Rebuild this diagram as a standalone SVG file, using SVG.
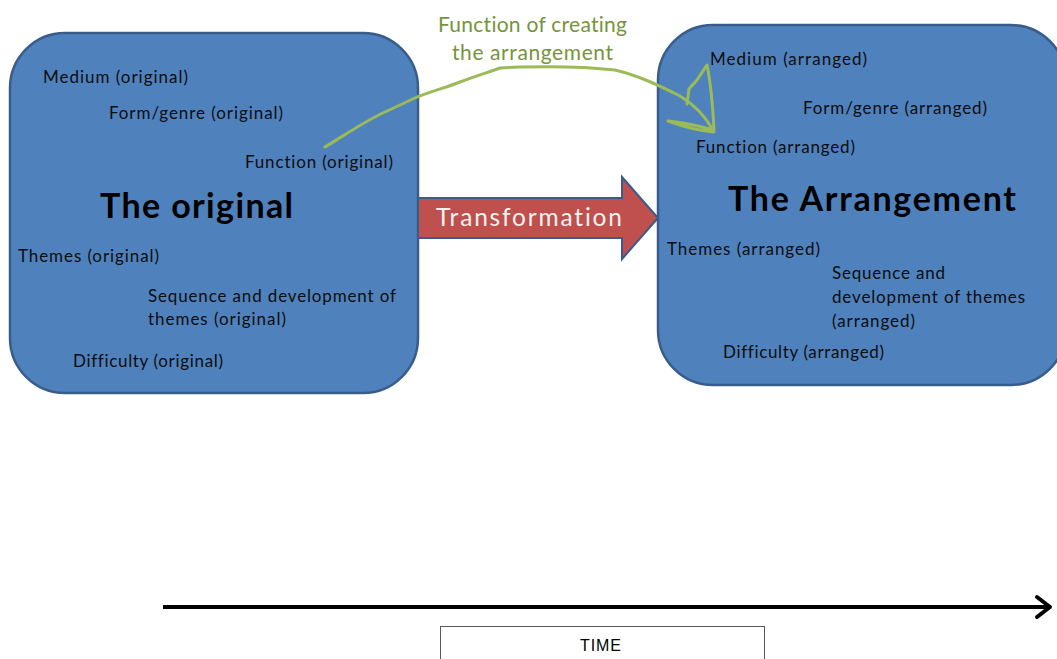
<svg xmlns="http://www.w3.org/2000/svg" width="1057" height="659" viewBox="0 0 1057 659">
  <defs>
    <style>
      text { font-variant-ligatures: none; }
      .box { fill: #4F81BD; stroke: #385D8A; stroke-width: 2.5; }
      .item { font-family: Lato, "Open Sans", sans-serif; font-size: 17px; fill: #0d0d0d; }
      .title { font-family: Lato, "Open Sans", sans-serif; font-size: 34px; font-weight: bold; fill: #000; }
      .green { font-family: Lato, "Open Sans", sans-serif; font-size: 21px; fill: #77933C; }
      .pen { fill: none; stroke: #9BBB59; stroke-width: 3; stroke-linecap: round; stroke-linejoin: round; }
    </style>
  </defs>

  <rect width="1057" height="659" fill="#ffffff"/>

  <!-- left node: the original work -->
  <g id="original">
    <rect class="box" x="10" y="33" width="408" height="360" rx="55" ry="55"/>
    <text class="item" x="43" y="83" textLength="145">Medium (original)</text>
    <text class="item" x="109" y="119" textLength="174">Form/genre (original)</text>
    <text class="item" x="245" y="168" textLength="148">Function (original)</text>
    <text class="title" x="100" y="218" textLength="193">The original</text>
    <text class="item" x="18" y="262" textLength="141">Themes (original)</text>
    <text class="item" x="148" y="302" textLength="248">Sequence and development of</text>
    <text class="item" x="148" y="325" textLength="138">themes (original)</text>
    <text class="item" x="73" y="367" textLength="150">Difficulty (original)</text>
  </g>

  <!-- right node: the arrangement -->
  <g id="arrangement">
    <rect class="box" x="658" y="25" width="408" height="360" rx="55" ry="55"/>
    <text class="item" x="710" y="65" textLength="157">Medium (arranged)</text>
    <text class="item" x="803" y="114" textLength="184">Form/genre (arranged)</text>
    <text class="item" x="696" y="153" textLength="159">Function (arranged)</text>
    <text class="title" x="728" y="211" textLength="288">The Arrangement</text>
    <text class="item" x="667" y="255" textLength="153">Themes (arranged)</text>
    <text class="item" x="832" y="279" textLength="113">Sequence and</text>
    <text class="item" x="832" y="303" textLength="193">development of themes</text>
    <text class="item" x="832" y="327" textLength="83">(arranged)</text>
    <text class="item" x="723" y="358" textLength="161">Difficulty (arranged)</text>
  </g>

  <g id="connectors">
    <!-- transformation block arrow -->
    <g id="transformation">
      <polygon points="418,198 622,198 622,177 658,218 622,259 622,238 418,238" fill="#C0504D" stroke="#385D8A" stroke-width="2"/>
      <text x="436" y="226" textLength="186" font-family="Lato, 'Open Sans', sans-serif" font-size="24.5px" fill="#F2F2F2">Transformation</text>
    </g>

    <!-- hand-drawn link between the two functions -->
    <g id="function-link">
      <path class="pen" d="M325,147 C345,135 365,121 385,112 L417,97 C435,90 448,87 460,82 C475,76 490,72 500,68 L520,67 C560,66 590,67 615,70 C640,76 660,86 680,96 C695,105 705,116 713,130"/>
      <path class="pen" d="M687,104 L689,89 L697,80 L707,65 C711,85 713,110 714,130 C703,127 688,123 668,121 C682,126 700,131 714,132"/>
      <text class="green" x="438" y="32" textLength="189">Function of creating</text>
      <text class="green" x="452" y="60" textLength="161">the arrangement</text>
    </g>

    <!-- time axis -->
    <g id="time-axis">
      <line x1="163" y1="607" x2="1049" y2="607" stroke="#000" stroke-width="4"/>
      <polyline points="1037,597 1050,607 1037,617" fill="none" stroke="#000" stroke-width="4" stroke-linecap="round" stroke-linejoin="round"/>
    </g>
  </g>

  <!-- time label -->
  <g id="time">
    <rect x="440.5" y="626.5" width="324" height="40" fill="#ffffff" stroke="#595959" stroke-width="1"/>
    <text x="580" y="651" textLength="41" font-family="'Liberation Sans Narrow', 'Liberation Sans', sans-serif" font-size="16px" fill="#000">TIME</text>
  </g>
</svg>
